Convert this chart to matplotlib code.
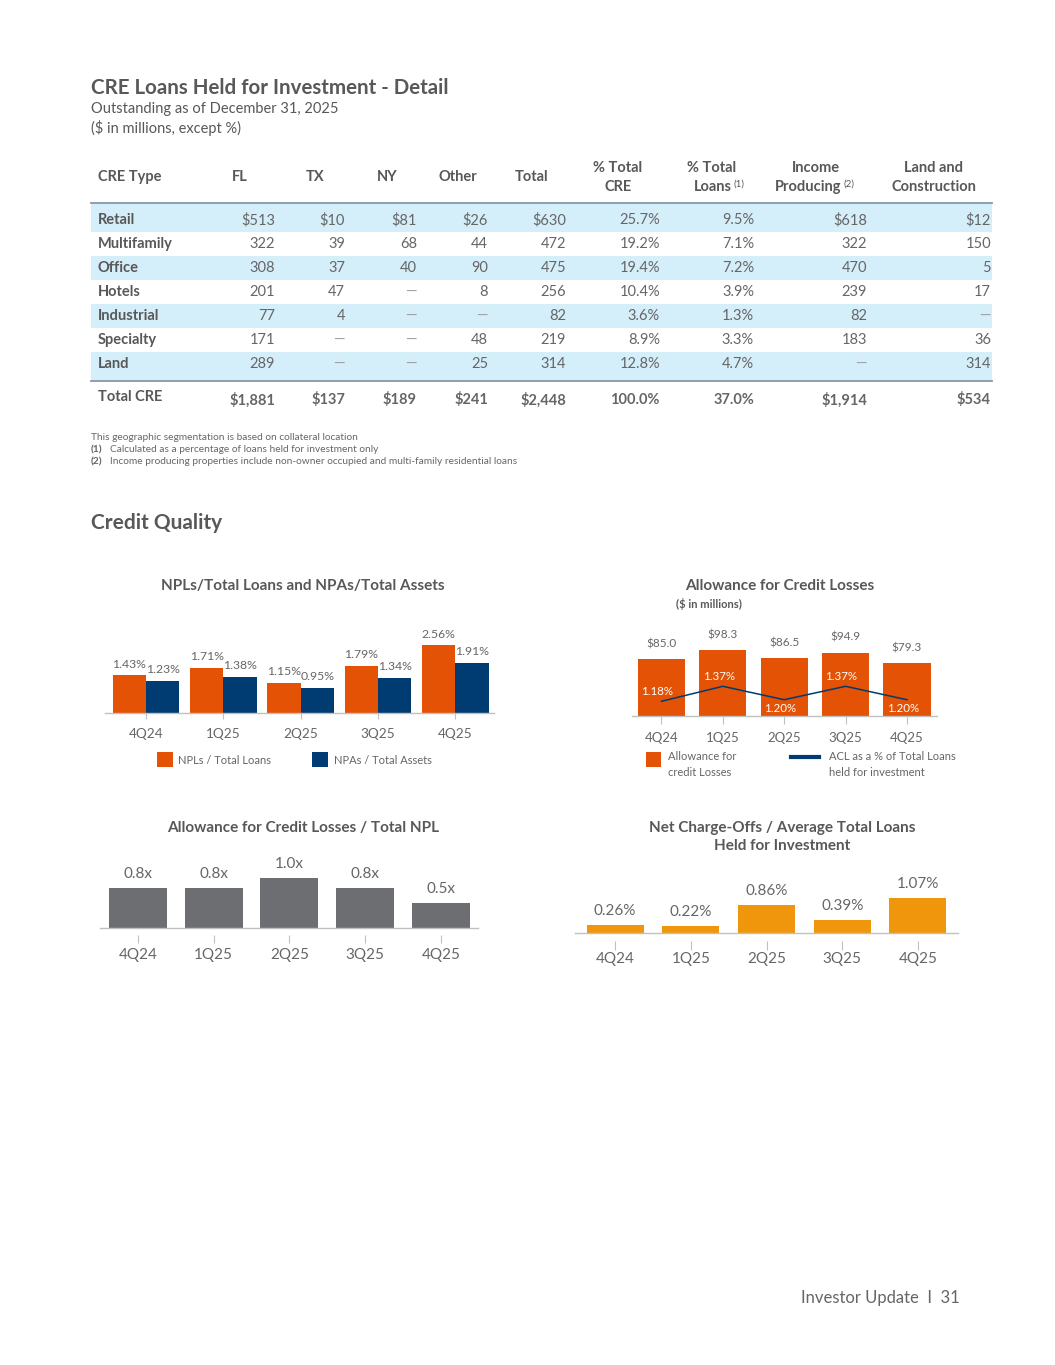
import matplotlib
matplotlib.use('Agg')
import matplotlib.pyplot as plt
from matplotlib.patches import Rectangle
from matplotlib.lines import Line2D

W, H = 1055, 1365
plt.rcParams['font.family'] = ['Lato', 'DejaVu Sans']

# ---- CRE table data ----
cre_types = ['Retail', 'Multifamily', 'Office', 'Hotels', 'Industrial', 'Specialty', 'Land']
fl = [513, 322, 308, 201, 77, 171, 289]
tx = [10, 39, 37, 47, 4, None, None]
ny = [81, 68, 40, None, None, None, None]
other = [26, 44, 90, 8, None, 48, 25]
total = [630, 472, 475, 256, 82, 219, 314]
pct_cre = [25.7, 19.2, 19.4, 10.4, 3.6, 8.9, 12.8]
pct_loans = [9.5, 7.1, 7.2, 3.9, 1.3, 3.3, 4.7]
income_prod = [618, 322, 470, 239, 82, 183, None]
land_constr = [12, 150, 5, 17, None, 36, 314]
totals = [1881, 137, 189, 241, 2448, 100.0, 37.0, 1914, 534]

# ---- credit quality data ----
quarters = ['4Q24', '1Q25', '2Q25', '3Q25', '4Q25']
npl_loans = [1.43, 1.71, 1.15, 1.79, 2.56]
npa_assets = [1.23, 1.38, 0.95, 1.34, 1.91]
acl_amount = [85.0, 98.3, 86.5, 94.9, 79.3]
acl_pct = [1.18, 1.37, 1.20, 1.37, 1.20]
acl_npl = [0.8, 0.8, 1.0, 0.8, 0.5]
nco_ratio = [0.26, 0.22, 0.86, 0.39, 1.07]

TITLE = '#585858'
TXT = '#666666'
DASH = '#a0a0a0'
ORANGE = '#E35205'
NAVY = '#003B71'
GRAY_BAR = '#6D6E71'
GOLD = '#F0960C'
STRIPE = '#d4eefa'
RULE = '#8796a5'
AXIS = '#c0c0c0'

fig = plt.figure(figsize=(W / 100, H / 100), dpi=100)
page = fig.add_axes([0, 0, 1, 1])
page.set_xlim(0, W)
page.set_ylim(H, 0)
page.axis('off')


def add_ax(left, right, top, bottom):
    ax = fig.add_axes([left / W, 1 - bottom / H, (right - left) / W, (bottom - top) / H])
    ax.set_facecolor('none')
    return ax


# ---- headings ----
page.text(91, 88, 'CRE Loans Held for Investment - Detail', fontsize=14.8, fontweight='bold',
          color=TITLE, va='center')
page.text(91, 109, 'Outstanding as of December 31, 2025', fontsize=10.5, color=TITLE, va='center')
page.text(91, 128, '($ in millions, except %)', fontsize=10.5, color=TITLE, va='center')

# ---- table ----
columns = [fl, tx, ny, other, total, pct_cre, pct_loans, income_prod, land_constr]
is_pct = [False, False, False, False, False, True, True, False, False]
col_right = [275, 345, 417, 488, 566, 660, 754, 867, 991]
hdr_center = [240, 315, 387, 458, 532, 618, 712, 816, 934]
tbl_left, tbl_right = 91, 992
hdr_line, bot_line = 202.5, 380.5
row_y = [220 + 24 * i for i in range(len(cre_types))]

fs_tbl = 10.5
HW = 'bold'
page.text(98, 177, 'CRE Type', fontsize=fs_tbl, fontweight=HW, color=TITLE, va='center')
for name, xc in zip(['FL', 'TX', 'NY', 'Other', 'Total'], hdr_center[:5]):
    page.text(xc, 177, name, fontsize=fs_tbl, fontweight=HW, color=TITLE, va='center', ha='center')
page.text(hdr_center[5], 168, '% Total', fontsize=fs_tbl, fontweight=HW, color=TITLE, va='center', ha='center')
page.text(hdr_center[5], 187, 'CRE', fontsize=fs_tbl, fontweight=HW, color=TITLE, va='center', ha='center')
page.text(hdr_center[6], 168, '% Total', fontsize=fs_tbl, fontweight=HW, color=TITLE, va='center', ha='center')
page.text(732, 187, 'Loans', fontsize=fs_tbl, fontweight=HW, color=TITLE, va='center', ha='right')
page.text(734, 184, '(1)', fontsize=7, color=TITLE, va='center', ha='left')
page.text(hdr_center[7], 168, 'Income', fontsize=fs_tbl, fontweight=HW, color=TITLE, va='center', ha='center')
page.text(841, 187, 'Producing', fontsize=fs_tbl, fontweight=HW, color=TITLE, va='center', ha='right')
page.text(844, 184, '(2)', fontsize=7, color=TITLE, va='center', ha='left')
page.text(hdr_center[8], 168, 'Land and', fontsize=fs_tbl, fontweight=HW, color=TITLE, va='center', ha='center')
page.text(hdr_center[8], 187, 'Construction', fontsize=fs_tbl, fontweight=HW, color=TITLE, va='center', ha='center')

for i, (name, y) in enumerate(zip(cre_types, row_y)):
    if i % 2 == 0:
        top = hdr_line if i == 0 else y - 12
        bottom = bot_line if i == len(cre_types) - 1 else y + 12
        page.add_patch(Rectangle((tbl_left, top), tbl_right - tbl_left, bottom - top,
                                 facecolor=STRIPE, edgecolor='none', zorder=0))
    page.text(98, y, name, fontsize=fs_tbl, fontweight=HW, color=TITLE, va='center')
    for col, xr, pct in zip(columns, col_right, is_pct):
        v = col[i]
        if v is None:
            page.text(xr, y, '\u2014', fontsize=fs_tbl, color=DASH, va='center', ha='right')
            continue
        if pct:
            s = f'{v:.1f}%'
        elif i == 0:
            s = f'${v:,}'
        else:
            s = f'{v:,}'
        page.text(xr, y, s, fontsize=fs_tbl, color=TXT, va='center', ha='right')

page.plot([tbl_left, tbl_right], [hdr_line, hdr_line], color=RULE, lw=1.3, zorder=2)
page.plot([tbl_left, tbl_right], [bot_line, bot_line], color=RULE, lw=1.3, zorder=2)

page.text(98, 397, 'Total CRE', fontsize=fs_tbl, fontweight=HW, color=TITLE, va='center')
for v, xr, pct in zip(totals, col_right, is_pct):
    s = f'{v:.1f}%' if pct else f'${v:,}'
    page.text(xr, 400, s, fontsize=fs_tbl, fontweight='bold', color=TXT, va='center', ha='right')

# ---- footnotes ----
fs_note = 7.3
page.text(91, 437, 'This geographic segmentation is based on collateral location', fontsize=fs_note,
          color=TXT, va='center')
page.text(91, 450, '(1)', fontsize=fs_note, fontweight='bold', color=TXT, va='center')
page.text(110, 450, 'Calculated as a percentage of loans held for investment only', fontsize=fs_note,
          color=TXT, va='center')
page.text(91, 462, '(2)', fontsize=fs_note, fontweight='bold', color=TXT, va='center')
page.text(110, 462, 'Income producing properties include non-owner occupied and multi-family residential loans',
          fontsize=fs_note, color=TXT, va='center')

page.text(91, 523, 'Credit Quality', fontsize=15, fontweight='bold', color=TITLE, va='center')


def base_style(ax, tick_fs, pad, length):
    for s in ['top', 'right', 'left']:
        ax.spines[s].set_visible(False)
    ax.spines['bottom'].set_color(AXIS)
    ax.spines['bottom'].set_linewidth(1.0)
    ax.set_yticks([])
    ax.set_xticks(range(len(quarters)))
    ax.set_xticklabels(quarters, fontsize=tick_fs, color=TXT)
    ax.tick_params(axis='x', length=length, color=AXIS, pad=pad, width=0.8)


# ---- chart 1: NPLs / NPAs ----
page.text(303, 586, 'NPLs/Total Loans and NPAs/Total Assets', fontsize=11, fontweight='bold',
          color=TITLE, va='center', ha='center')
ax1 = add_ax(105, 494, 600, 713)
x = range(len(quarters))
bw = 0.43
b1 = ax1.bar([i - bw / 2 for i in x], npl_loans, bw, color=ORANGE)
b2 = ax1.bar([i + bw / 2 for i in x], npa_assets, bw, color=NAVY)
ax1.set_xlim(-0.53, 4.5)
ax1.set_ylim(0, 113 / 26.4)
for rect, v in zip(b1, npl_loans):
    ax1.annotate(f'{v:.2f}%', (rect.get_x() + rect.get_width() / 2, v), xytext=(0, 4),
                 textcoords='offset points', ha='center', va='bottom', fontsize=8.8, color=TXT)
for rect, v in zip(b2, npa_assets):
    ax1.annotate(f'{v:.2f}%', (rect.get_x() + rect.get_width() / 2, v), xytext=(0, 4),
                 textcoords='offset points', ha='center', va='bottom', fontsize=8.8, color=TXT)
base_style(ax1, 9.8, 6.5, 4)

page.add_patch(Rectangle((157, 752), 16, 15, facecolor=ORANGE, edgecolor='none'))
page.text(178, 760, 'NPLs / Total Loans', fontsize=8, color=TXT, va='center')
page.add_patch(Rectangle((312, 752), 16, 15, facecolor=NAVY, edgecolor='none'))
page.text(334, 760, 'NPAs / Total Assets', fontsize=8, color=TXT, va='center')

# ---- chart 2: Allowance for credit losses ----
page.text(780, 586, 'Allowance for Credit Losses', fontsize=11, fontweight='bold',
          color=TITLE, va='center', ha='center')
page.text(709, 604, '($ in millions)', fontsize=8, fontweight='bold', color=TITLE, va='center', ha='center')
ax2 = add_ax(632, 937, 616, 716)
bars = ax2.bar(x, acl_amount, 0.77, color=ORANGE)
ax2.set_xlim(-0.48, 4.49)
ax2.set_ylim(0, 100 / 0.668)
for rect, v in zip(bars, acl_amount):
    ax2.annotate(f'${v:.1f}', (rect.get_x() + rect.get_width() / 2, v), xytext=(0, 7),
                 textcoords='offset points', ha='center', va='bottom', fontsize=8.5, color=TXT)
base_style(ax2, 9.5, 5.5, 6)
ax2b = ax2.twinx()
ax2b.set_facecolor('none')
ax2b.plot(x, acl_pct, color=NAVY, lw=1.1)
v0 = acl_pct[0] - 14.7 / 79
ax2b.set_ylim(v0, v0 + 100 / 79)
ax2b.axis('off')
label_above = [True, True, False, True, False]
for i, (v, up) in enumerate(zip(acl_pct, label_above)):
    ax2b.annotate(f'{v:.2f}%', (i, v), xytext=(-3, 7 if up else -6), textcoords='offset points',
                  ha='center', va='center', fontsize=8.3, color='white')

page.add_patch(Rectangle((646, 752), 15, 15, facecolor=ORANGE, edgecolor='none'))
page.text(668, 757, 'Allowance for', fontsize=8, color=TXT, va='center')
page.text(668, 773, 'credit Losses', fontsize=8, color=TXT, va='center')
page.add_line(Line2D([791, 819], [757, 757], color=NAVY, lw=3))
page.text(829, 756, 'ACL as a % of Total Loans', fontsize=8, color=TXT, va='center')
page.text(829, 772, 'held for investment', fontsize=8, color=TXT, va='center')

# ---- chart 3: ACL / total NPL ----
page.text(303, 828, 'Allowance for Credit Losses / Total NPL', fontsize=11, fontweight='bold',
          color=TITLE, va='center', ha='center')
ax3 = add_ax(100, 478, 848, 928)
bars = ax3.bar(x, acl_npl, 0.766, color=GRAY_BAR)
ax3.set_xlim(-0.5, 4.49)
ax3.set_ylim(0, 80 / 49.7)
for rect, v in zip(bars, acl_npl):
    ax3.annotate(f'{v:.1f}x', (rect.get_x() + rect.get_width() / 2, v), xytext=(0, 5),
                 textcoords='offset points', ha='center', va='bottom', fontsize=11, color=TXT)
base_style(ax3, 11, 14.5, 0)
ax3.vlines(list(x), -15 / 80, -7 / 80, transform=ax3.get_xaxis_transform(), color=AXIS,
           lw=0.8, clip_on=False)

# ---- chart 4: NCOs / average loans ----
page.text(782, 828, 'Net Charge-Offs / Average Total Loans', fontsize=11, fontweight='bold',
          color=TITLE, va='center', ha='center')
page.text(782, 846, 'Held for Investment', fontsize=11, fontweight='bold',
          color=TITLE, va='center', ha='center')
ax4 = add_ax(575, 958, 853, 933)
bars = ax4.bar(x, nco_ratio, 0.75, color=GOLD)
ax4.set_xlim(-0.53, 4.53)
ax4.set_ylim(0, 80 / 32.5)
for rect, v in zip(bars, nco_ratio):
    ax4.annotate(f'{v:.2f}%', (rect.get_x() + rect.get_width() / 2, v), xytext=(0, 5),
                 textcoords='offset points', ha='center', va='bottom', fontsize=11, color=TXT)
base_style(ax4, 11, 13.5, 0)
ax4.vlines(list(x), -17 / 80, -8 / 80, transform=ax4.get_xaxis_transform(), color=AXIS,
           lw=0.8, clip_on=False)

# ---- footer ----
page.text(960, 1298, 'Investor Update  I  31', fontsize=12, color=TXT, va='center', ha='right')

fig.savefig('out.png', dpi=100)
